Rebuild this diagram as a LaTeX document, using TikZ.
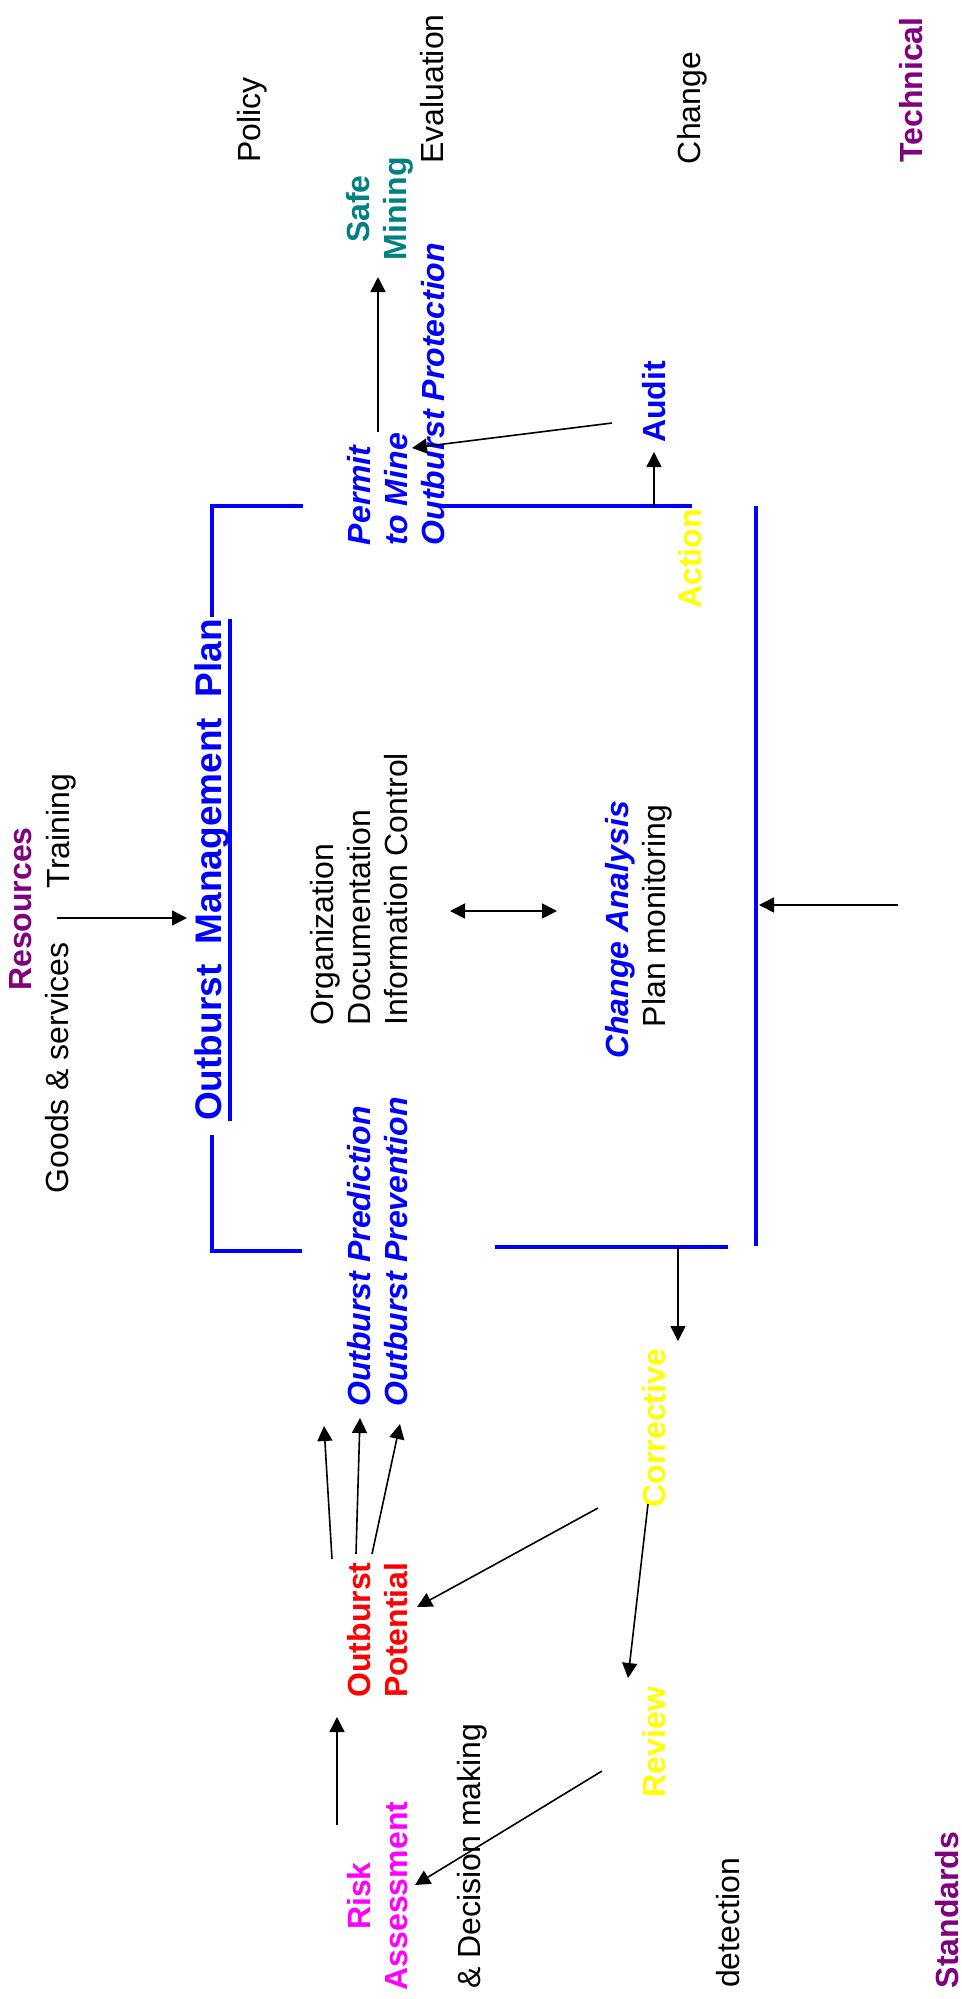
\documentclass[tikz,border=0pt]{standalone}
\usepackage{fontspec}
\setmainfont{Liberation Sans}
\usetikzlibrary{arrows.meta}

\definecolor{ompblue}{RGB}{0,0,255}
\definecolor{ompred}{RGB}{255,0,0}
\definecolor{ompmagenta}{RGB}{255,0,255}
\definecolor{ompyellow}{RGB}{255,255,0}
\definecolor{ompteal}{RGB}{0,128,128}
\definecolor{omppurple}{RGB}{128,0,128}

\begin{document}
\begin{tikzpicture}[x=0.5pt,y=-0.5pt]
      \tikzstyle{txt}=[rotate=90,inner sep=0pt,font=\fontsize{16}{18.5}\selectfont]
      \tikzstyle{bld}=[txt,font=\fontsize{16}{18.5}\selectfont\bfseries]
      \tikzstyle{bit}=[txt,font=\fontsize{16}{18.5}\selectfont\bfseries\itshape,text=ompblue]
      \tikzstyle{arr}=[-{Triangle[length=7.5pt,width=7.5pt]},line width=0.8pt]
      \tikzstyle{darr}=[{Triangle[length=7.5pt,width=7.5pt]}-{Triangle[length=7.5pt,width=7.5pt]},line width=0.8pt]
      \tikzstyle{ompline}=[ompblue,line width=2pt]

      \useasboundingbox (0,0) rectangle (962,1999);

      \begin{scope}
        \node[txt](policy) at (252,120){Policy};
        \node[txt](evaluation) at (432,89){Evaluation};
        \node[txt](change) at (692,108){Change};
        \node[bld,text=omppurple](technical) at (911,90){Technical};
        \node[bld,text=ompteal,align=center](safe) at (380,209){Safe\\Mining};
        \node[bit,align=left](permit) at (396,394){Permit\\to Mine\\Outburst Protection};
        \node[bld,text=ompblue](audit) at (654,402){Audit};
        \node[bld,text=ompyellow](action) at (690,559){Action};

        \node[bld,text=omppurple](resources) at (21,909){Resources};
        \node[txt](training) at (61,831){Training};
        \node[txt](goods) at (57,1068){Goods \& services};
        \node[txt,font=\fontsize{18.5}{22}\selectfont\bfseries,text=ompblue](omp) at (212,870)
          {Outburst\ \ Management\ \ Plan};
        \node[txt,align=left](org) at (359,889){Organization\\Documentation\\Information Control};
        \node[bit](chg) at (620,930){Change Analysis};
        \node[txt](planmon) at (657,916){Plan monitoring};

        \node[bit,align=left](pred) at (378,1252){Outburst Prediction\\Outburst Prevention};
        \node[bld,text=ompyellow](corrective) at (654,1428){Corrective};
        \node[bld,text=ompred,align=left](potential) at (378,1630){Outburst\\Potential};
        \node[bld,text=ompyellow](review) at (654,1742){Review};
        \node[bld,text=ompmagenta,align=center](risk) at (378,1896){Risk\\Assessment};
        \node[txt](decision) at (472,1856){\& Decision making};
        \node[txt](detection) at (728,1923){detection};
        \node[bld,text=omppurple](standards) at (947,1910){Standards};

        \coordinate(ftl) at (442,506);
        \coordinate(ftr) at (692,506);
        \coordinate(frt) at (756,506);
        \coordinate(frb) at (756,1246);
        \coordinate(fbl) at (495,1247);
        \coordinate(fbr) at (728,1247);
        \coordinate(inflow) at (898,905);

        \draw[ompline](ftl) -- (ftr);
        \draw[ompline](frt) -- (frb);
        \draw[ompline](fbl) -- (fbr);
        \draw[ompline]([yshift=1pt]omp.east) -- (omp.east |- ftl) -- ++(91,0);
        \draw[ompline]([yshift=-7pt]omp.west) -- ++(0,116) -- ++(90,0);
        \draw[ompline](omp.south west) -- (omp.south east);

        \draw[arr]([shift={(-4,87)}]training.center) -- ([shift={(-25,48)}]omp.center);
        \draw[arr]([shift={(-18,38)}]permit.center) -- ([shift={(-2,68)}]safe.center);
        \draw[arr]([shift={(-42,21)}]audit.center) -- ([shift={(16,54)}]permit.center);
        \draw[arr](audit.center |- ftr) -- ([shift={(0,50)}]audit.center);
        \draw[darr]([shift={(91,22)}]org.center) -- ([shift={(-63,-19)}]chg.center);
        \draw[arr,shorten >=1.5pt](inflow) -- (inflow -| frt);
        \draw[arr]([xshift=12pt]corrective.center |- fbl) -- ([shift={(24,-87)}]corrective.center);
        \draw[arr]([shift={(-56,80)}]corrective.center) -- ([shift={(39,-23)}]potential.center);
        \draw[arr]([shift={(-6,76)}]corrective.center) -- ([shift={(-26,-64)}]review.center);
        \draw[arr]([shift={(-52,29)}]review.center) -- ([shift={(37,-11)}]risk.center);
        \draw[arr]([shift={(-41,-71)}]risk.center) -- ([shift={(-41,87)}]potential.center);
        \foreach \tx/\ty/\hx/\hy in {-46/-71/-54/174,-22/-76/-18/166,-6/-76/22/172}
          \draw[arr]([shift={(\tx,\ty)}]potential.center) -- ([shift={(\hx,\hy)}]pred.center);
      \end{scope}
    \end{tikzpicture}
\end{document}
